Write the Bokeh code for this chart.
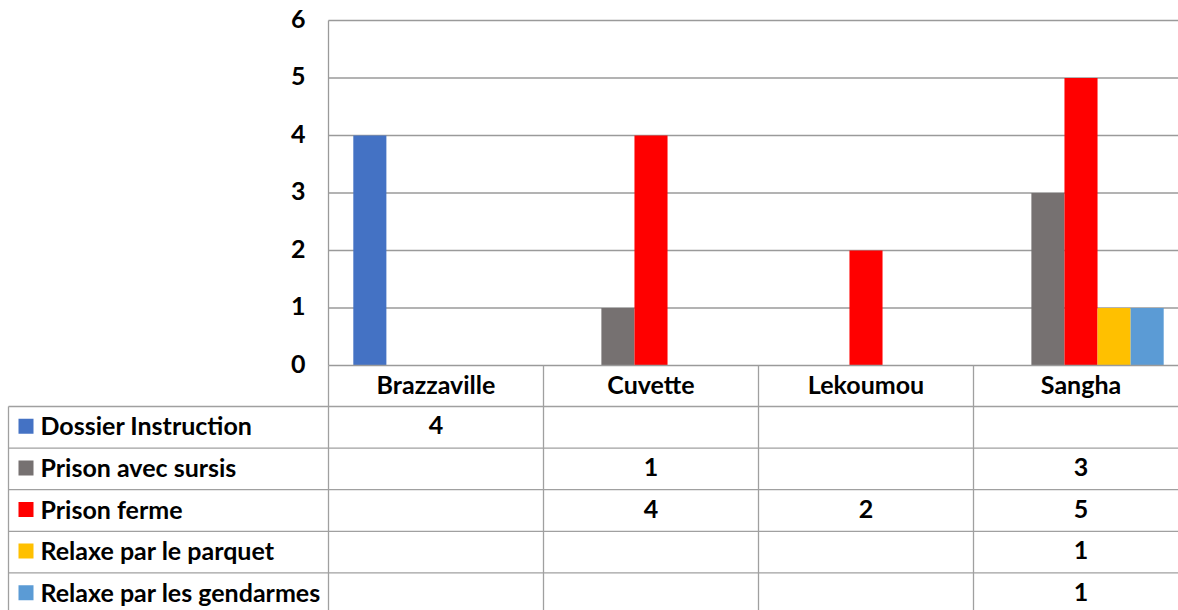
from bokeh.plotting import figure
from bokeh.models import Range1d
from bokeh.core.properties import value
from bokeh.embed import file_html
from bokeh.resources import INLINE

# Data
categories = ["Brazzaville", "Cuvette", "Lekoumou", "Sangha"]
series_names = ["Dossier Instruction", "Prison avec sursis", "Prison ferme",
                "Relaxe par le parquet", "Relaxe par les gendarmes"]
dossier_instruction = [4, None, None, None]
prison_avec_sursis = [None, 1, None, 3]
prison_ferme = [None, 4, 2, 5]
relaxe_parquet = [None, None, None, 1]
relaxe_gendarmes = [None, None, None, 1]
y_ticks = [0, 1, 2, 3, 4, 5, 6]

series_values = [dossier_instruction, prison_avec_sursis, prison_ferme,
                 relaxe_parquet, relaxe_gendarmes]
colors = ["#4472C4", "#767171", "#FF0000", "#FFC000", "#5B9BD5"]

W, H = 1178, 610
AXIS_X = 328          # pixel position of category axis start
CAT_W = 215           # pixels per category
ZERO_Y = 365          # pixel position of value 0
UNIT = 57.5           # pixels per unit

def px_x(px):
    return (px - AXIS_X) / CAT_W

def px_y(py):
    return (ZERO_Y - py) / UNIT

FONT = value("Lato")
FS = "25px"
LINE = "#a0a0a0"
TXT_DY = 2 / UNIT     # nudge text up slightly for optical centring

p = figure(width=W, height=H, output_backend="svg", toolbar_location=None,
           x_axis_type=None, y_axis_type=None, min_border=0,
           x_range=Range1d(px_x(0), px_x(W)), y_range=Range1d(px_y(H), px_y(0)))
p.outline_line_color = None
p.background_fill_color = "white"
p.border_fill_color = "white"

n = len(series_names)
gap = 1.5
bw = 1.0 / (n + gap)
x_end = px_x(W)

# gridlines
grid_vals = [t for t in y_ticks if t > 0]
p.segment(x0=[0] * len(grid_vals), x1=[x_end] * len(grid_vals), y0=grid_vals, y1=grid_vals,
          line_color="#9a9a9a", line_width=1.3)

# bars
for j, (vals, col) in enumerate(zip(series_values, colors)):
    xs, hs = [], []
    for i, v in enumerate(vals):
        if v:
            xs.append(i + gap / 2 * bw + bw * (j + 0.5))
            hs.append(v)
    p.vbar(x=xs, top=hs, bottom=0, width=bw, fill_color=col, line_color=None)

# y tick labels
p.text(x=[px_x(305)] * len(y_ticks), y=[t + TXT_DY for t in y_ticks], text=[str(t) for t in y_ticks],
       text_font=FONT, text_font_style="bold", text_font_size=FS,
       text_align="right", text_baseline="middle", text_color="black")

# table geometry
header_bottom = 406
row_h = 41.6
row_lines = [header_bottom + row_h * k for k in range(n + 1)]

# horizontal table lines
p.segment(x0=[0], x1=[x_end], y0=[0], y1=[0], line_color="#9a9a9a", line_width=1.3)
p.segment(x0=[px_x(8)] * len(row_lines), x1=[x_end] * len(row_lines),
          y0=[px_y(r) for r in row_lines], y1=[px_y(r) for r in row_lines],
          line_color=LINE, line_width=1.3)
# vertical lines
vx = list(range(len(categories)))
p.segment(x0=vx, x1=vx, y0=[0] * len(vx), y1=[px_y(H)] * len(vx),
          line_color=LINE, line_width=1.3)
p.segment(x0=[0], x1=[0], y0=[6], y1=[0], line_color="#9a9a9a", line_width=1.3)
p.segment(x0=[px_x(8)], x1=[px_x(8)], y0=[px_y(header_bottom)], y1=[px_y(H)],
          line_color=LINE, line_width=1.3)

# category labels
p.text(x=[i + 0.5 for i in range(len(categories))],
       y=[px_y((ZERO_Y + header_bottom) / 2) + TXT_DY] * len(categories),
       text=categories, text_font=FONT, text_font_style="bold", text_font_size=FS,
       text_align="center", text_baseline="middle", text_color="black")

# legend keys and series names
row_centers = [px_y(header_bottom + row_h * (k + 0.5)) for k in range(n)]
p.scatter(x=[px_x(25.5)] * n, y=[c + 1 / UNIT for c in row_centers], marker="square", size=15,
          fill_color=colors, line_color=None)
p.text(x=[px_x(40)] * n, y=[c + TXT_DY for c in row_centers], text=series_names,
       text_font=FONT, text_font_style="bold", text_font_size=FS,
       text_align="left", text_baseline="middle", text_color="black")

# table values
tx, ty, tt = [], [], []
for j, vals in enumerate(series_values):
    for i, v in enumerate(vals):
        if v is not None:
            tx.append(i + 0.5)
            ty.append(row_centers[j] + TXT_DY)
            tt.append(str(v))
p.text(x=tx, y=ty, text=tt, text_font=FONT, text_font_style="bold", text_font_size=FS,
       text_align="center", text_baseline="middle", text_color="black")

open("out.html", "w").write(file_html(p, INLINE))
